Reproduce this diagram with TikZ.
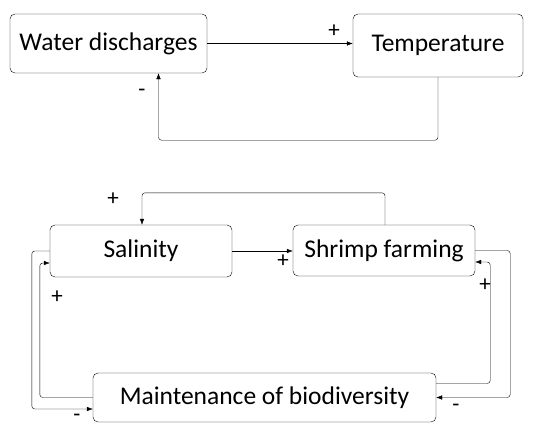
\documentclass[tikz,border=0pt]{standalone}
\usepackage{fontspec}
\setmainfont{Carlito}
\usetikzlibrary{calc,arrows.meta}
\begin{document}
\begin{tikzpicture}[
      x=1pt, y=-1pt,
      box/.style={thin, draw, rounded corners=5pt, inner sep=0,
        font=\fontsize{25.5}{30}\selectfont},
      sign/.style={inner sep=0, font=\fontsize{23}{27}\selectfont},
      link/.style={-{Latex[length=6pt,width=4.5pt]}, thin, rounded corners=3pt}
    ]
    \useasboundingbox (0,0) rectangle (536,426);
    % first loop
    \node[box, minimum width=197pt, minimum height=59pt] (wd) at (108.5,43.5) {Water discharges};
    \node[box, minimum width=170pt, minimum height=63pt] (temp) at (438,45.5) {Temperature};
    \draw[link] (wd.east) -- (wd.east -| temp.west);
    \draw[link] (temp.south) -- ++(0,63) -| ([xshift=50pt]wd.south);
    \node[sign] (p1) at (334,31) {+};
    \node[sign] (m1) at (142,93) {-};
    % second loop
    \node[box, minimum width=182pt, minimum height=52pt] (sal) at (141,251) {Salinity};
    \node[box, minimum width=182pt, minimum height=51pt] (shrimp) at (384,250.5) {Shrimp farming};
    \node[box, minimum width=343pt, minimum height=49pt] (maint) at (264.5,397.5) {Maintenance of biodiversity};
    \draw[link] (sal.east) -- (sal.east -| shrimp.west);
    \draw[link] ([xshift=1pt]shrimp.north) -- ++(0,-32) -| ([xshift=1pt]sal.north);
    \draw[link] (shrimp.east) -- ++(35,0) |- (maint.east);
    \draw[link] ([yshift=14pt]maint.east) -- ++(54,0) |- ([yshift=-11.5pt]shrimp.east);
    \draw[link] (sal.west) -- ++(-18,0) |- ([yshift=-11.5pt]maint.west);
    \draw[link] (maint.west) -- ++(-53,0) |- ([yshift=-12pt]sal.west);
    \node[sign] (p2) at (113,199) {+};
    \node[sign] (p3) at (283,261) {+};
    \node[sign] (p4) at (485,285) {+};
    \node[sign] (m2) at (456,408) {-};
    \node[sign] (p5) at (57,297) {+};
    \node[sign] (m3) at (77,418) {-};
\end{tikzpicture}
\end{document}
